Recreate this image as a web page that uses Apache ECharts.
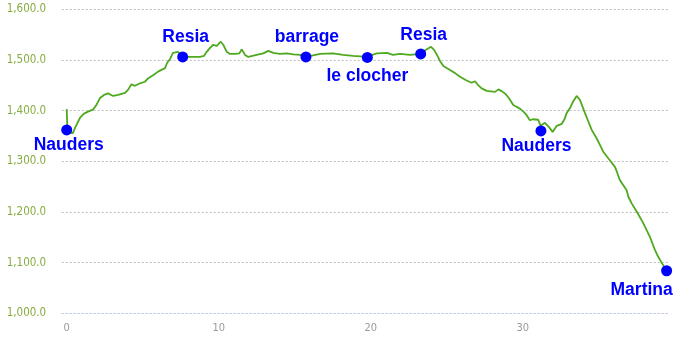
<!DOCTYPE html>
<html>
<head>
<meta charset="utf-8">
<script src="https://cdn.jsdelivr.net/npm/echarts@6/dist/echarts.min.js"></script>
<style>html,body{margin:0;padding:0;background:#fff}#c{width:683px;height:343px}</style>
</head>
<body>
<div id="c"></div>
<script>
// Distance (km) and elevation (m) along the route
const profileKm = [0.0,0.05,0.39,0.61,0.88,1.14,1.40,1.73,1.93,2.19,2.45,2.72,3.05,3.38,3.84,4.03,4.26,4.49,4.82,5.14,5.37,5.68,6.01,6.27,6.47,6.60,6.80,6.99,7.12,7.32,7.46,7.63,8.11,8.77,9.03,9.21,9.43,9.64,9.87,10.13,10.30,10.53,10.74,11.07,11.36,11.51,11.73,11.95,12.50,12.93,13.26,13.59,14.03,14.47,14.91,15.35,15.74,16.67,17.52,18.18,18.84,19.78,20.09,20.41,21.07,21.47,21.93,22.59,23.29,23.64,23.97,24.17,24.36,24.56,24.78,25.22,25.55,25.88,26.28,26.64,26.86,27.05,27.30,27.63,28.18,28.40,28.64,28.83,29.09,29.38,29.82,30.08,30.26,30.47,30.67,30.80,31.02,31.18,31.26,31.46,31.72,31.97,32.24,32.57,32.75,32.89,33.11,33.30,33.55,33.77,34.10,34.30,34.54,34.87,35.09,35.30,35.68,36.07,36.20,36.39,36.84,36.95,37.19,37.50,37.93,38.37,38.70,38.89,39.14,39.47];
const profileElev = [1403,1360,1355,1370,1386,1394,1398,1402,1410,1425,1431,1434,1429,1431,1435,1441,1452,1449,1454,1457,1464,1470,1477,1481,1484,1494,1502,1514,1516,1516,1512,1506,1506,1506,1508,1516,1524,1530,1528,1536,1530,1516,1512,1512,1513,1521,1510,1506,1510,1513,1518,1514,1512,1513,1511,1510,1506,1512,1513,1510,1508,1506,1510,1513,1514,1510,1512,1510,1512,1520,1526,1520,1510,1498,1488,1480,1474,1467,1460,1455,1458,1451,1444,1439,1437,1442,1438,1434,1425,1411,1404,1397,1391,1381,1383,1384,1382,1370,1368,1376,1368,1358,1370,1374,1383,1395,1405,1417,1429,1421,1395,1380,1362,1345,1332,1319,1304,1289,1279,1263,1243,1230,1216,1201,1178,1151,1125,1113,1100,1084];

// Named places
const placeNames = ['Nauders','Resia','barrage','le clocher','Resia','Nauders','Martina'];
const placeKm = [0, 7.63, 15.74, 19.78, 23.29, 31.2, 39.47];
const placeElev = [1362, 1506, 1506, 1505, 1512, 1360, 1084];

// Axis ticks
const yTicks = [1000, 1100, 1200, 1300, 1400, 1500, 1600];
const xTicks = [0, 10, 20, 30];

const labelOffsets = [[2,15],[3,-20],[1,-20],[0,18.6],[3,-19],[-4.5,15],[-25,19.4]];

const lineData = profileKm.map((k, i) => [k, profileElev[i]]);
const placeData = placeKm.map((k, i) => ({
  value: [k, placeElev[i]],
  name: placeNames[i],
  label: { offset: labelOffsets[i] }
}));

const chart = echarts.init(document.getElementById('c'), null, { renderer: 'canvas' });
chart.setOption({
  animation: false,
  grid: { left: 61.7, right: 14.7, top: 9.3, bottom: 29.7 },
  xAxis: {
    type: 'value',
    min: -0.33,
    max: 39.58,
    axisLine: { show: true, lineStyle: { color: '#c4cced', type: [2, 2], width: 1 } },
    axisTick: { show: false },
    splitLine: { show: false },
    axisLabel: {
      customValues: xTicks,
      color: '#999',
      fontSize: 11,
      fontFamily: "'DejaVu Sans Condensed', 'DejaVu Sans', sans-serif",
      margin: 9
    }
  },
  yAxis: {
    type: 'value',
    min: yTicks[0],
    max: yTicks[yTicks.length - 1],
    interval: 100,
    axisLine: { show: false },
    axisTick: { show: false },
    splitLine: { show: true, lineStyle: { color: '#c0c0c0', type: [2, 2], width: 1 } },
    axisLabel: {
      color: '#86ad40',
      fontSize: 11.5,
      fontFamily: "'DejaVu Sans Condensed', 'DejaVu Sans', sans-serif",
      margin: 15.5,
      formatter: v => v.toLocaleString('en-US', { minimumFractionDigits: 1, maximumFractionDigits: 1 })
    }
  },
  series: [
    {
      type: 'line',
      data: lineData,
      showSymbol: false,
      symbol: 'none',
      lineStyle: { color: '#4ea91f', width: 1.8 },
      z: 2
    },
    {
      type: 'scatter',
      data: placeData,
      symbol: 'circle',
      symbolSize: 11,
      itemStyle: { color: '#0000ff', opacity: 1 },
      emphasis: { disabled: true },
      z: 3,
      label: {
        show: true,
        position: 'inside',
        formatter: p => p.name,
        color: '#0000ff',
        opacity: 1,
        fontWeight: 'bold',
        fontSize: 17.5,
        fontFamily: "'Liberation Sans', Arial, sans-serif"
      }
    }
  ]
});
</script>
</body>
</html>
